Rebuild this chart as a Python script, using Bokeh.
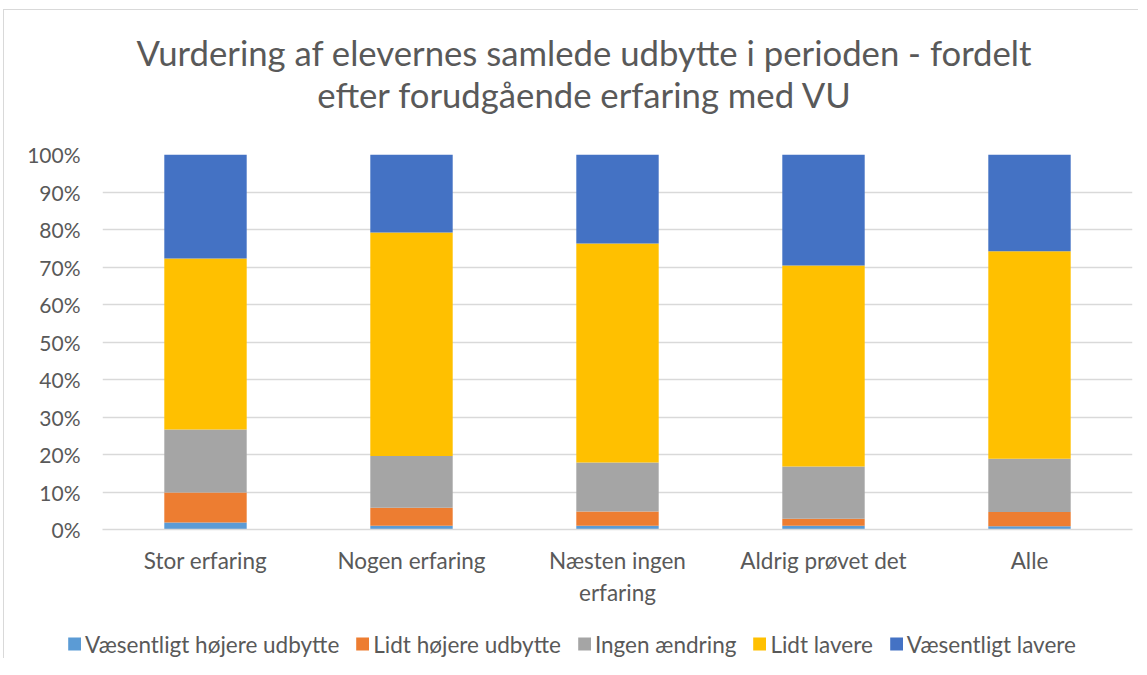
from bokeh.plotting import figure
from bokeh.models import Legend, LegendItem, Range1d, FactorRange, FixedTicker, PrintfTickFormatter, Div
from bokeh.layouts import column
from bokeh.embed import file_html
from bokeh.resources import INLINE

title_lines = ["Vurdering af elevernes samlede udbytte i perioden - fordelt",
               "efter forudgående erfaring med VU"]
categories = ["Stor erfaring", "Nogen erfaring", "Næsten ingen\nerfaring", "Aldrig prøvet det", "Alle"]
series = ["Væsentligt højere udbytte", "Lidt højere udbytte", "Ingen ændring", "Lidt lavere", "Væsentligt lavere"]
vaesentligt_hoejere = [1.9, 1.0, 1.0, 1.0, 0.9]
lidt_hoejere = [8.0, 4.8, 3.8, 1.9, 3.8]
ingen_aendring = [16.8, 13.8, 13.1, 13.9, 14.2]
lidt_lavere = [45.6, 59.6, 58.4, 53.6, 55.3]
vaesentligt_lavere = [27.7, 20.8, 23.7, 29.6, 25.8]
colors = ["#5B9BD5", "#ED7D31", "#A5A5A5", "#FFC000", "#4472C4"]

FONT = "Lato"
TXT = "#595959"
GRID = "#D9D9D9"

data = {"cat": categories}
for name, vals in zip(series, [vaesentligt_hoejere, lidt_hoejere, ingen_aendring, lidt_lavere, vaesentligt_lavere]):
    data[name] = vals

# ---- title
title_div = Div(
    text="<br>".join(title_lines), width=1134, height=110, margin=0,
    styles={"font-family": FONT, "font-size": "34.7px", "line-height": "42px", "color": TXT,
            "text-align": "center", "padding-top": "22px", "padding-left": "26px",
            "box-sizing": "border-box", "white-space": "nowrap"})

# ---- main chart
p = figure(frame_width=1030, frame_height=375, x_range=FactorRange(*categories, range_padding=0),
           y_range=Range1d(0, 100), output_backend="svg", toolbar_location=None,
           min_border_left=98, min_border_right=6, min_border_top=34, min_border_bottom=100)

p.vbar_stack(series, x="cat", width=0.4, color=colors, line_color=None, source=data)

p.outline_line_color = None
p.xgrid.grid_line_color = None
p.ygrid.grid_line_color = GRID
p.ygrid.grid_line_width = 1.5
p.yaxis.ticker = FixedTicker(ticks=list(range(0, 101, 10)))
p.yaxis.formatter = PrintfTickFormatter(format="%d%%")
p.yaxis.axis_line_color = None
p.yaxis.major_tick_line_color = None
p.yaxis.minor_tick_line_color = None
p.yaxis.major_label_standoff = 16
p.xaxis.axis_line_color = GRID
p.xaxis.axis_line_width = 1.5
p.xaxis.major_tick_line_color = None
p.xaxis.major_label_standoff = 11
for ax in (p.xaxis, p.yaxis):
    ax.major_label_text_font = FONT
    ax.major_label_text_color = TXT
p.xaxis.major_label_text_font_size = "22.5px"
p.yaxis.major_label_text_font_size = "21px"

# ---- legend strip (hidden copies of the bar series supply the legend swatches)
pl = figure(frame_width=1060, frame_height=29, x_range=FactorRange(*categories),
            y_range=Range1d(0, 100), x_axis_type=None, y_axis_type=None,
            output_backend="svg", toolbar_location=None,
            min_border_left=74, min_border_right=0, min_border_top=0, min_border_bottom=0)
pl.outline_line_color = None
pl.grid.visible = False
legend_renderers = pl.vbar_stack(series, x="cat", width=0.4, color=colors, line_color=None, source=data)
for r in legend_renderers:
    r.visible = False
legend = Legend(items=[LegendItem(label=s, renderers=[r]) for s, r in zip(series, legend_renderers)],
                orientation="horizontal", location="center", border_line_color=None,
                background_fill_alpha=0, label_text_font=FONT, label_text_font_size="22.5px",
                label_text_color=TXT, glyph_width=16, glyph_height=16, label_standoff=3,
                spacing=15, padding=0, margin=0, inactive_fill_alpha=0)
pl.add_layout(legend)

layout = column(title_div, p, pl, spacing=0, margin=(9, 0, 0, 3),
                styles={"border-left": "1px solid #D9D9D9", "border-top": "1px solid #D9D9D9"})
open("out.html", "w").write(file_html(layout, INLINE))
